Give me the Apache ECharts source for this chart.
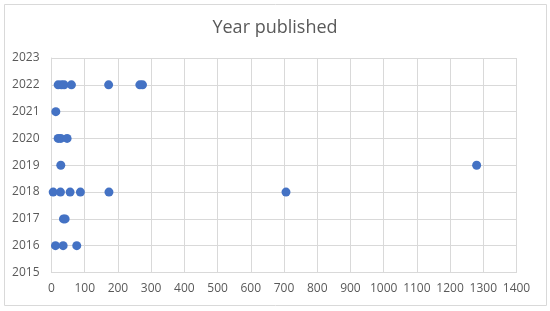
<!DOCTYPE html>
<html>
<head>
<meta charset="utf-8">
<script src="https://cdn.jsdelivr.net/npm/echarts@6/dist/echarts.min.js"></script>
<style>html,body{margin:0;padding:0;background:#fff}#c{width:550px;height:311px}</style>
</head>
<body>
<div id="c"></div>
<script>
var chartTitle = "Year published";
var xValues = [20, 30, 38, 60, 172, 266, 274,
               13,
               20, 28, 47,
               28, 1280,
               5, 27, 56, 87, 173, 706,
               36, 41,
               12, 35, 76];
var yearValues = [2022, 2022, 2022, 2022, 2022, 2022, 2022,
                  2021,
                  2020, 2020, 2020,
                  2019, 2019,
                  2018, 2018, 2018, 2018, 2018, 2018,
                  2017, 2017,
                  2016, 2016, 2016];
var points = xValues.map(function (v, i) { return [v, yearValues[i]]; });
var chart = echarts.init(document.getElementById('c'), null, {renderer: 'canvas'});
var font = '"Open Sans", "Liberation Sans", sans-serif';
chart.setOption({
  animation: false,
  title: {text: chartTitle, left: 'center', top: 14,
    textStyle: {fontFamily: font, fontSize: 18, fontWeight: 'normal', color: '#595959'}},
  graphic: [{type: 'rect', shape: {x: 4.5, y: 4.5, width: 542, height: 301},
    style: {fill: 'none', stroke: '#d9d9d9', lineWidth: 1}, silent: true}],
  grid: {left: 51.5, right: 33.5, top: 58, bottom: 38.5, containLabel: false},
  xAxis: {type: 'value', min: 0, max: 1400, interval: 100,
    axisLine: {show: true, lineStyle: {color: '#d9d9d9'}}, axisTick: {show: false},
    splitLine: {show: true, lineStyle: {color: '#d9d9d9'}},
    axisLabel: {fontFamily: font, fontSize: 12, color: '#595959', margin: 10,
      formatter: function (v) { return String(v); }}},
  yAxis: {type: 'value', min: 2015, max: 2023, interval: 1,
    axisLine: {show: true, lineStyle: {color: '#d9d9d9'}}, axisTick: {show: false},
    splitLine: {show: true, lineStyle: {color: '#d9d9d9'}},
    axisLabel: {fontFamily: font, fontSize: 12, color: '#595959', margin: 12,
      formatter: function (v) { return String(v); }}},
  series: [{type: 'scatter', data: points, symbolSize: 9,
    itemStyle: {color: '#4472C4', opacity: 1}}]
});
</script>
</body>
</html>
